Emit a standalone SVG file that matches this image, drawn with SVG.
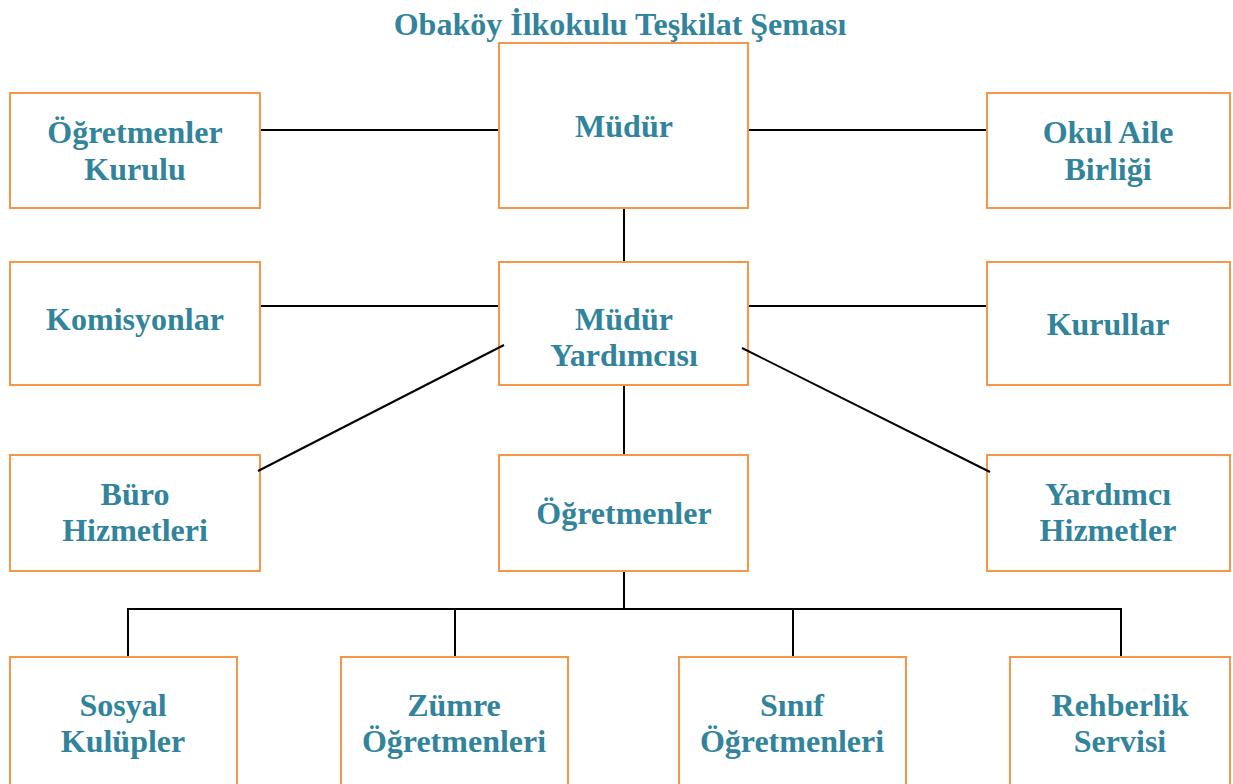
<svg xmlns="http://www.w3.org/2000/svg" width="1233" height="784" viewBox="0 0 1233 784">
<style>
.box{fill:#fff;stroke:#F79646;stroke-width:2}
.t{font-family:"Liberation Serif","Times New Roman",serif;font-weight:bold;font-size:32px;fill:#31849B;text-anchor:middle}
.c line{stroke:#000;stroke-width:2}
</style>
<rect width="1233" height="784" fill="#fff"/>
<text class="t" x="620" y="35">Obaköy İlkokulu Teşkilat Şeması</text>
<g id="ogretmenler-kurulu"><rect class="box" x="10" y="93" width="250" height="115"/><text class="t" x="135" y="143">Öğretmenler</text><text class="t" x="135" y="180">Kurulu</text></g>
<g id="mudur"><rect class="box" x="499" y="43" width="249" height="165"/><text class="t" x="624" y="137">Müdür</text></g>
<g id="okul-aile"><rect class="box" x="987" y="93" width="243" height="115"/><text class="t" x="1108" y="143">Okul Aile</text><text class="t" x="1108" y="180">Birliği</text></g>
<g id="komisyonlar"><rect class="box" x="10" y="262" width="250" height="123"/><text class="t" x="135" y="330">Komisyonlar</text></g>
<g id="mudur-yrd"><rect class="box" x="499" y="262" width="249" height="123"/><text class="t" x="624" y="330">Müdür</text><text class="t" x="624" y="366">Yardımcısı</text></g>
<g id="kurullar"><rect class="box" x="987" y="262" width="243" height="123"/><text class="t" x="1108" y="335">Kurullar</text></g>
<g id="buro"><rect class="box" x="10" y="455" width="250" height="116"/><text class="t" x="135" y="505">Büro</text><text class="t" x="135" y="541">Hizmetleri</text></g>
<g id="ogretmenler"><rect class="box" x="499" y="455" width="249" height="116"/><text class="t" x="624" y="524">Öğretmenler</text></g>
<g id="yardimci"><rect class="box" x="987" y="455" width="243" height="116"/><text class="t" x="1108" y="505">Yardımcı</text><text class="t" x="1108" y="541">Hizmetler</text></g>
<g id="sosyal"><rect class="box" x="10" y="657" width="227" height="140"/><text class="t" x="123" y="716">Sosyal</text><text class="t" x="123" y="752">Kulüpler</text></g>
<g id="zumre"><rect class="box" x="341" y="657" width="227" height="140"/><text class="t" x="454" y="716">Zümre</text><text class="t" x="454" y="752">Öğretmenleri</text></g>
<g id="sinif"><rect class="box" x="679" y="657" width="227" height="140"/><text class="t" x="792" y="716">Sınıf</text><text class="t" x="792" y="752">Öğretmenleri</text></g>
<g id="rehberlik"><rect class="box" x="1010" y="657" width="220" height="140"/><text class="t" x="1120" y="716">Rehberlik</text><text class="t" x="1120" y="752">Servisi</text></g>
<g class="c" id="connectors">
<line x1="261" y1="130" x2="498" y2="130"/>
<line x1="749" y1="130" x2="986" y2="130"/>
<line x1="624" y1="209" x2="624" y2="261"/>
<line x1="261" y1="306" x2="498" y2="306"/>
<line x1="749" y1="306" x2="986" y2="306"/>
<line x1="504" y1="345" x2="258" y2="471"/>
<line x1="742" y1="348" x2="990" y2="472"/>
<line x1="624" y1="386" x2="624" y2="454"/>
<line x1="624" y1="572" x2="624" y2="609"/>
<line x1="127" y1="609" x2="1122" y2="609"/>
<line x1="128" y1="609" x2="128" y2="656"/>
<line x1="455" y1="609" x2="455" y2="656"/>
<line x1="793" y1="609" x2="793" y2="656"/>
<line x1="1121" y1="609" x2="1121" y2="656"/>
</g>
</svg>
